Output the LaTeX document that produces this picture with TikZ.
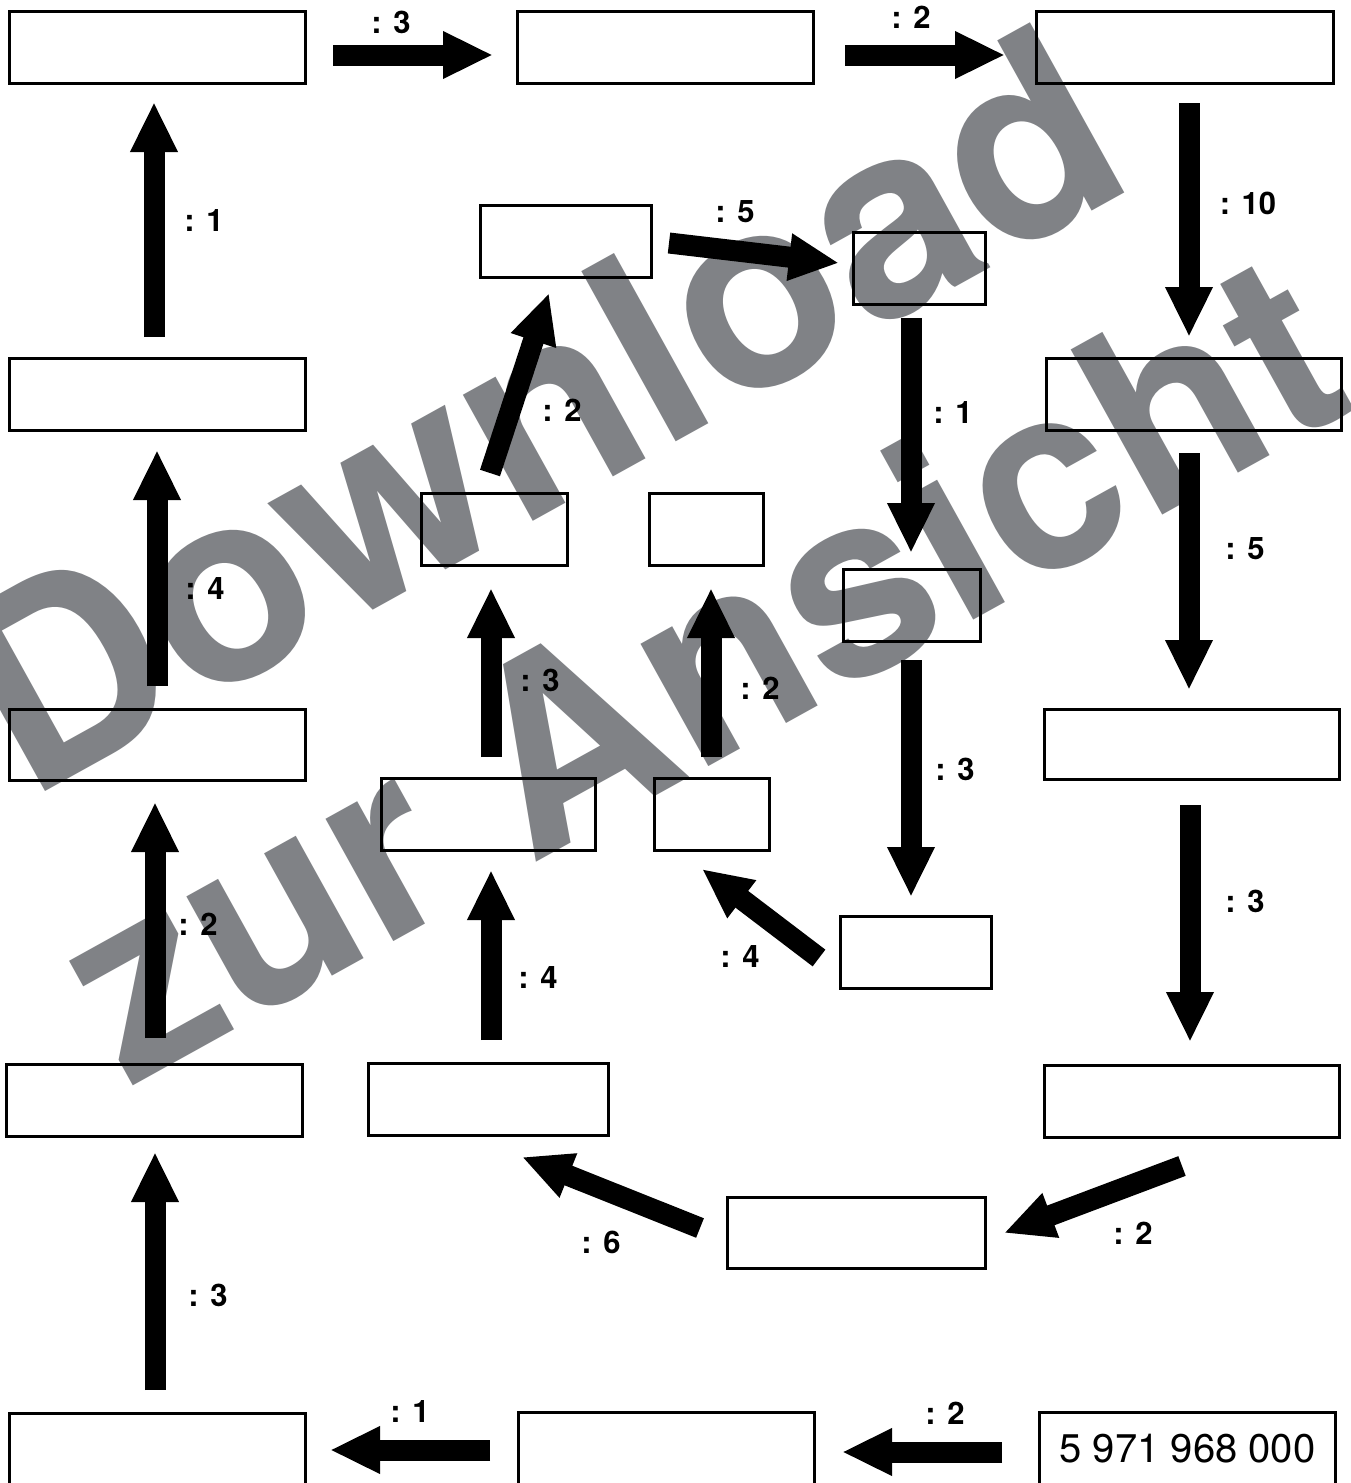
\documentclass[tikz,border=0pt]{standalone}
\usepackage{fontspec}
\setmainfont{TeX Gyre Heros}
\usetikzlibrary{arrows.meta}
\definecolor{wm}{RGB}{128,130,134}
\tikzset{
  box/.style={draw=black, line width=3pt, inner sep=0pt},
  arr/.style={line width=21pt, -{Triangle[length=50pt,width=44pt]}},
  lbl/.style={font=\fontsize{31}{34}\selectfont\bfseries, inner sep=0pt},
  wmtext/.style={font=\fontsize{267}{300}\selectfont\bfseries, text=wm, inner sep=0pt, anchor=base west, rotate=29},
}
\begin{document}
\begin{tikzpicture}[x=1pt,y=-1pt]
\path[use as bounding box] (0,0) rectangle (1351,1483);
\clip (0,0) rectangle (1351,1483);
\fill[white] (0,0) rectangle (1351,1483);
% watermark
\node[wmtext] (wm1) at (27,802) {Download};
\node[wmtext, font=\fontsize{259}{290}\selectfont\bfseries] (wm2) at (128,1089) {zur Ansicht};
% boxes
\node[box, minimum width=296, minimum height=72] (b1) at (157.5,47.5) {};
\node[box, minimum width=296, minimum height=72] (b2) at (665.5,47.5) {};
\node[box, minimum width=297, minimum height=72] (b3) at (1185,47.5) {};
\node[box, minimum width=296, minimum height=72] (b4) at (157.5,394.5) {};
\node[box, minimum width=171, minimum height=72] (b5) at (566,241.5) {};
\node[box, minimum width=132, minimum height=72] (b6) at (919.5,268.5) {};
\node[box, minimum width=295, minimum height=72] (b7) at (1194,394.5) {};
\node[box, minimum width=146, minimum height=72] (b8) at (494.5,529.5) {};
\node[box, minimum width=114, minimum height=72] (b9) at (706.5,529.5) {};
\node[box, minimum width=137, minimum height=72] (b10) at (912,605.5) {};
\node[box, minimum width=296, minimum height=71] (b11) at (157.5,745) {};
\node[box, minimum width=295, minimum height=70] (b12) at (1192,744.5) {};
\node[box, minimum width=214, minimum height=72] (b13) at (488.5,814.5) {};
\node[box, minimum width=115, minimum height=72] (b14) at (712,814.5) {};
\node[box, minimum width=151, minimum height=72] (b15) at (916,952.5) {};
\node[box, minimum width=296, minimum height=72] (b16) at (154.5,1100.5) {};
\node[box, minimum width=240, minimum height=72] (b17) at (488.5,1099.5) {};
\node[box, minimum width=295, minimum height=72] (b18) at (1192,1101.5) {};
\node[box, minimum width=258, minimum height=71] (b19) at (856.5,1233) {};
\node[box, minimum width=296, minimum height=72] (b20) at (157.5,1449.5) {};
\node[box, minimum width=296, minimum height=72] (b21) at (666.5,1448.5) {};
\node[box, minimum width=296, minimum height=72, font=\fontsize{40}{44}\selectfont] (b22) at (1187.5,1448.5) {5 971 968 000};
% arrow end points
\coordinate (a1s) at (333,55);    \coordinate (a1e) at (493,55);
\coordinate (a2s) at (845,55);    \coordinate (a2e) at (1005,55);
\coordinate (a3s) at (1189,103);  \coordinate (a3e) at (1189,337);
\coordinate (a4s) at (1189,453);  \coordinate (a4e) at (1189,690);
\coordinate (a5s) at (1190,805);  \coordinate (a5e) at (1190,1042);
\coordinate (a6s) at (1182,1166); \coordinate (a6e) at (1004,1233);
\coordinate (a7s) at (700,1228);  \coordinate (a7e) at (522,1157);
\coordinate (a8s) at (491,1040);  \coordinate (a8e) at (491,870);
\coordinate (a9s) at (491,757);   \coordinate (a9e) at (491,588);
\coordinate (a10s) at (711,757);  \coordinate (a10e) at (711,588);
\coordinate (a11s) at (819,958);  \coordinate (a11e) at (702,869);
\coordinate (a12s) at (490,473);  \coordinate (a12e) at (549,293);
\coordinate (a13s) at (669,243);  \coordinate (a13e) at (839,263);
\coordinate (a14s) at (911,318);  \coordinate (a14e) at (911,553);
\coordinate (a15s) at (911,660);  \coordinate (a15e) at (911,897);
\coordinate (a16s) at (1002,1452); \coordinate (a16e) at (842,1452);
\coordinate (a17s) at (490,1450); \coordinate (a17e) at (330,1450);
\coordinate (a18s) at (155,1390); \coordinate (a18e) at (155,1152);
\coordinate (a19s) at (155,1038); \coordinate (a19e) at (155,802);
\coordinate (a20s) at (157,686);  \coordinate (a20e) at (157,450);
\coordinate (a21s) at (154,337);  \coordinate (a21e) at (154,102);
% arrows
\foreach \i in {1,...,21}{\draw[arr] (a\i s) -- (a\i e);}
% labels
\node[lbl] (l1) at (391,22) {: 3};
\node[lbl] (l2) at (911,17) {: 2};
\node[lbl] (l3) at (1248,203) {: 10};
\node[lbl] (l4) at (1245,549) {: 5};
\node[lbl] (l5) at (1245,901) {: 3};
\node[lbl] (l6) at (1133,1233) {: 2};
\node[lbl] (l7) at (601,1242) {: 6};
\node[lbl] (l8) at (538,977) {: 4};
\node[lbl] (l9) at (540,680) {: 3};
\node[lbl] (l10) at (760,688) {: 2};
\node[lbl] (l11) at (740,956) {: 4};
\node[lbl] (l12) at (562,410) {: 2};
\node[lbl] (l13) at (735,212) {: 5};
\node[lbl] (l14) at (953,413) {: 1};
\node[lbl] (l15) at (955,769) {: 3};
\node[lbl] (l16) at (945,1413) {: 2};
\node[lbl] (l17) at (410,1411) {: 1};
\node[lbl] (l18) at (208,1295) {: 3};
\node[lbl] (l19) at (198,924) {: 2};
\node[lbl] (l20) at (205,589) {: 4};
\node[lbl] (l21) at (204,221) {: 1};
\end{tikzpicture}
\end{document}
